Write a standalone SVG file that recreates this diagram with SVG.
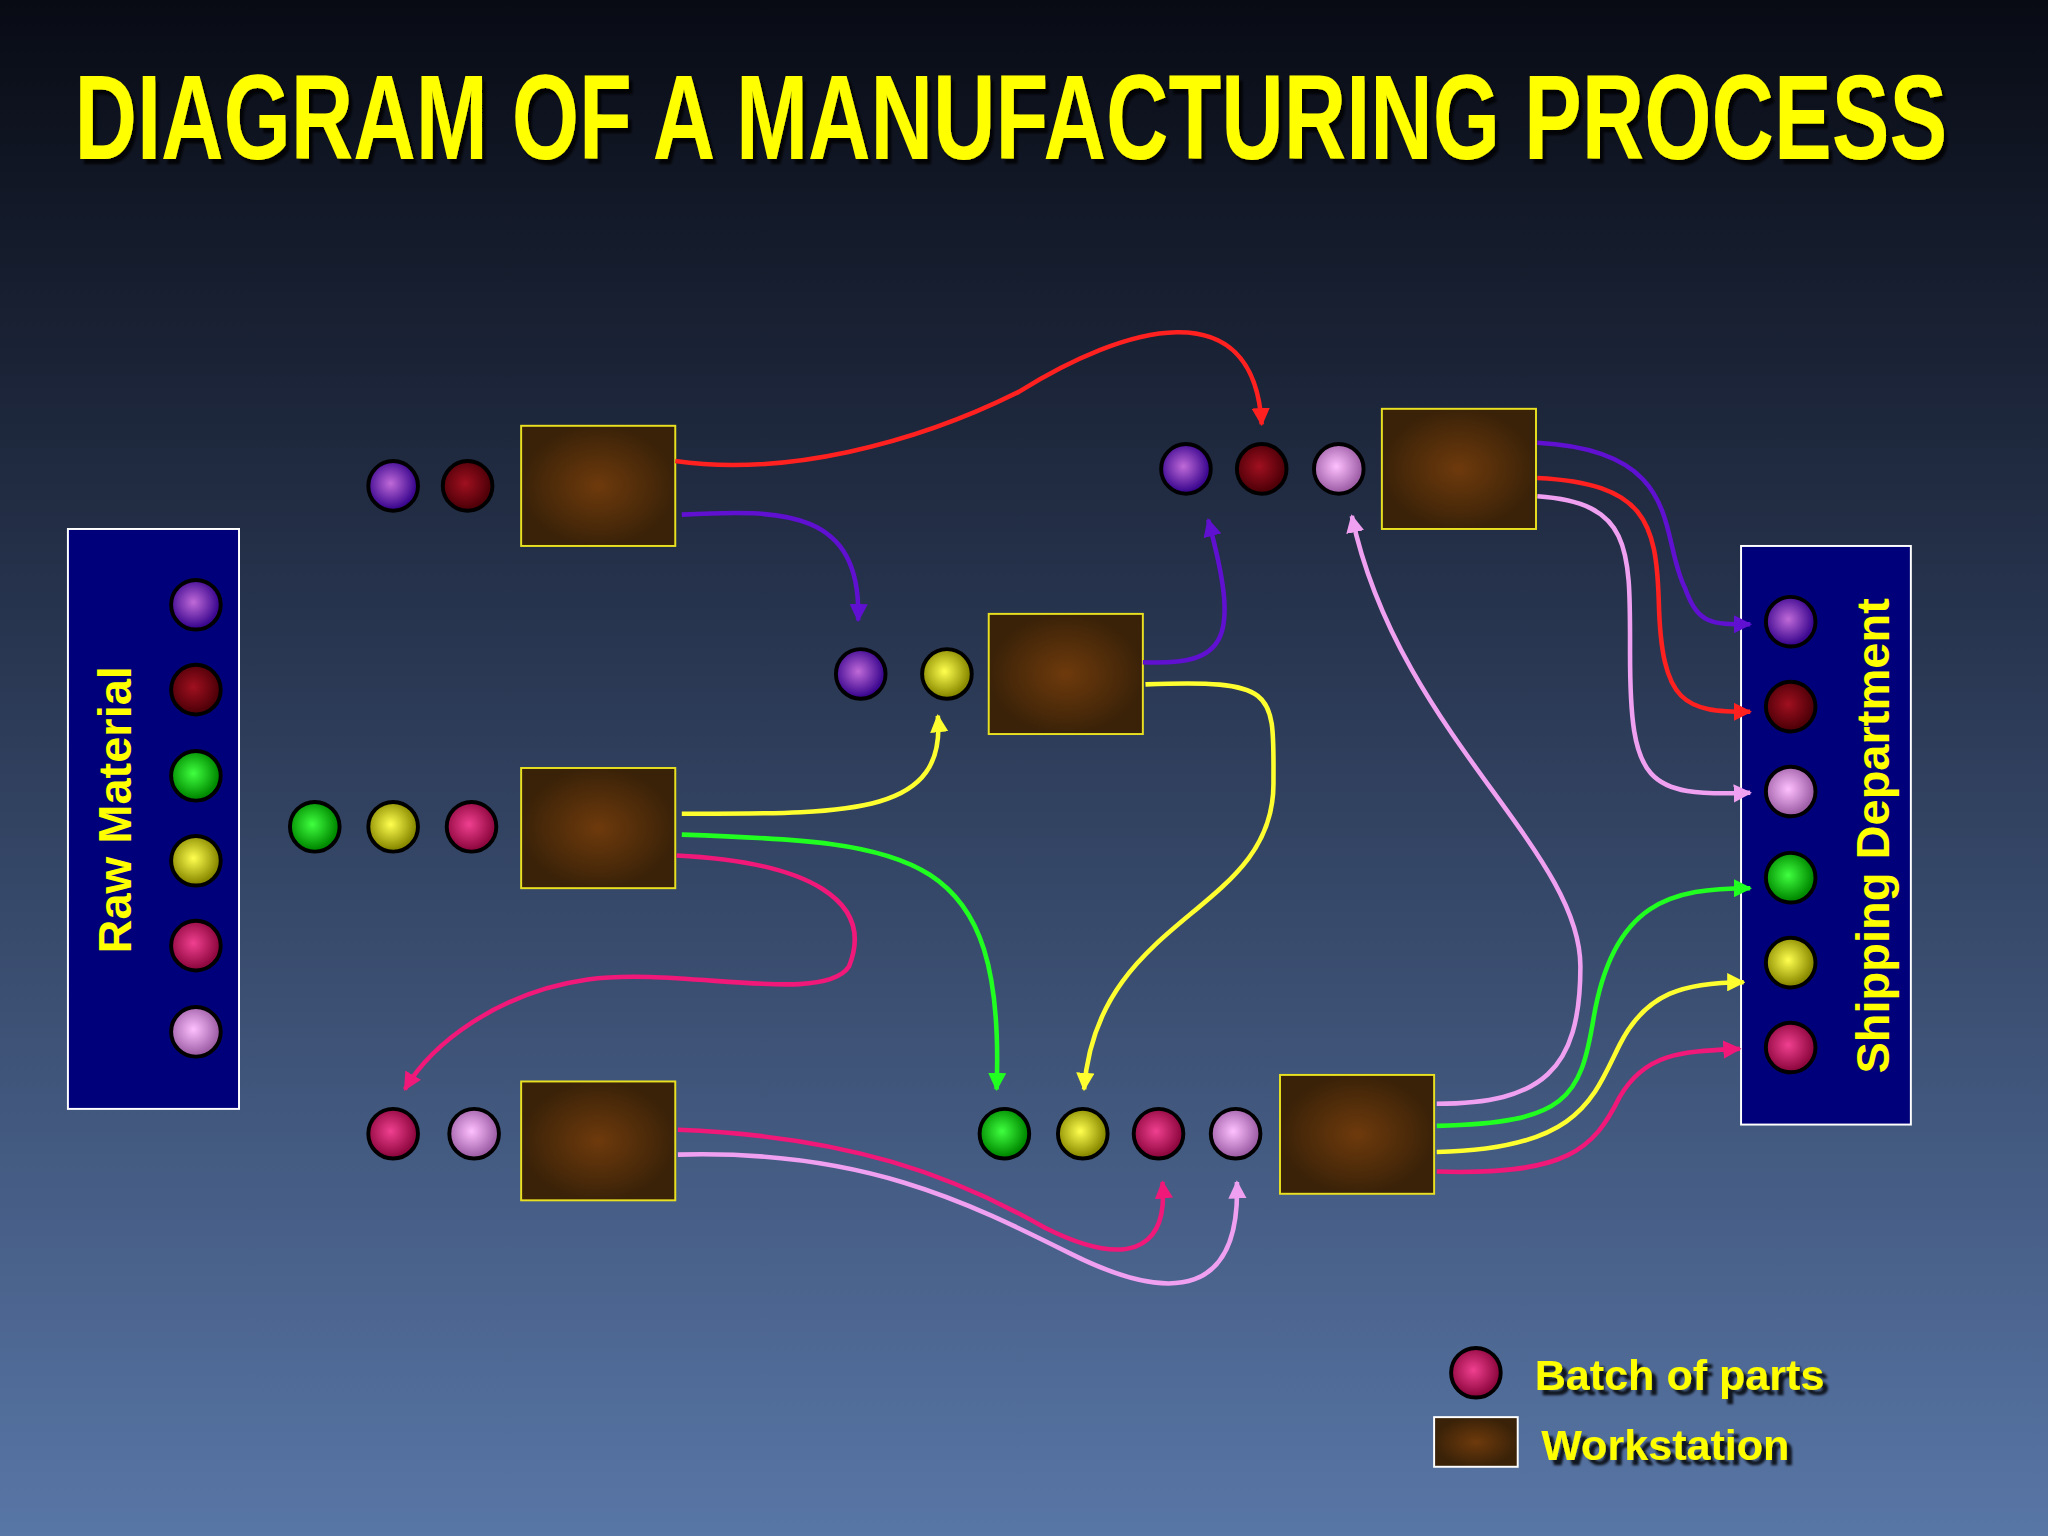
<svg xmlns="http://www.w3.org/2000/svg" width="2048" height="1536" viewBox="0 0 2048 1536">
<defs>
<filter id="sh" x="-10%" y="-40%" width="120%" height="180%"><feDropShadow dx="4" dy="4" stdDeviation="1" flood-color="#000" flood-opacity="0.8"/></filter>
<linearGradient id="bg" x1="0" y1="0" x2="0" y2="1"><stop offset="0" stop-color="#080b14"/><stop offset="0.4" stop-color="#27344e"/><stop offset="1" stop-color="#5876a6"/></linearGradient>
<radialGradient id="ws"><stop offset="0" stop-color="#6e3a0c"/><stop offset="1" stop-color="#3a2208"/></radialGradient>
<radialGradient id="gp" cx="0.45" cy="0.45"><stop offset="0" stop-color="#c06ad8"/><stop offset="1" stop-color="#3c0890"/></radialGradient>
<radialGradient id="gd" cx="0.45" cy="0.45"><stop offset="0" stop-color="#a01020"/><stop offset="1" stop-color="#500008"/></radialGradient>
<radialGradient id="gg" cx="0.45" cy="0.45"><stop offset="0" stop-color="#40ff40"/><stop offset="1" stop-color="#008a00"/></radialGradient>
<radialGradient id="gy" cx="0.45" cy="0.45"><stop offset="0" stop-color="#ffff50"/><stop offset="1" stop-color="#8a8a00"/></radialGradient>
<radialGradient id="gm" cx="0.45" cy="0.45"><stop offset="0" stop-color="#f04090"/><stop offset="1" stop-color="#900840"/></radialGradient>
<radialGradient id="gk" cx="0.45" cy="0.45"><stop offset="0" stop-color="#ffc0ff"/><stop offset="1" stop-color="#a060a8"/></radialGradient>
<marker id="ar" viewBox="0 0 10 10" refX="9" refY="5" markerWidth="4" markerHeight="4" orient="auto"><path d="M0,0 L10,5 L0,10 z" fill="#ff2020"/></marker>
<marker id="ap" viewBox="0 0 10 10" refX="9" refY="5" markerWidth="4" markerHeight="4" orient="auto"><path d="M0,0 L10,5 L0,10 z" fill="#6010d0"/></marker>
<marker id="ay" viewBox="0 0 10 10" refX="9" refY="5" markerWidth="4" markerHeight="4" orient="auto"><path d="M0,0 L10,5 L0,10 z" fill="#ffff30"/></marker>
<marker id="ag" viewBox="0 0 10 10" refX="9" refY="5" markerWidth="4" markerHeight="4" orient="auto"><path d="M0,0 L10,5 L0,10 z" fill="#20ff20"/></marker>
<marker id="am" viewBox="0 0 10 10" refX="9" refY="5" markerWidth="4" markerHeight="4" orient="auto"><path d="M0,0 L10,5 L0,10 z" fill="#f01878"/></marker>
<marker id="ak" viewBox="0 0 10 10" refX="9" refY="5" markerWidth="4" markerHeight="4" orient="auto"><path d="M0,0 L10,5 L0,10 z" fill="#f0a0f0"/></marker>
</defs>
<style>
.ws{fill:url(#ws);stroke:#e8e020;stroke-width:1.5}
.b{stroke:#000;stroke-width:3}
.c{fill:none;stroke-width:3.5}
.t{font-family:"Liberation Sans",Arial,sans-serif;font-weight:bold;fill:#ffff00}
.box{fill:#00007a;stroke:#fff;stroke-width:1.5}
</style>
<rect width="2048" height="1536" fill="url(#bg)"/>
<g transform="scale(1.30612)">
<g transform="translate(57,122) scale(0.72,1)"><text class="t" x="0" y="0" font-size="92" filter="url(#sh)">DIAGRAM OF A MANUFACTURING PROCESS</text></g>
<g id="raw"><rect class="box" x="52" y="405" width="131" height="444"/>
<text class="t" font-size="36" text-anchor="middle" transform="translate(100,620) rotate(-90)">Raw Material</text>
<circle class="b" cx="150" cy="463" r="19" fill="url(#gp)"/><circle class="b" cx="150" cy="528" r="19" fill="url(#gd)"/><circle class="b" cx="150" cy="594" r="19" fill="url(#gg)"/><circle class="b" cx="150" cy="659" r="19" fill="url(#gy)"/><circle class="b" cx="150" cy="724" r="19" fill="url(#gm)"/><circle class="b" cx="150" cy="790" r="19" fill="url(#gk)"/></g>
<g id="ship"><rect class="box" x="1333" y="418" width="130" height="443"/>
<text class="t" font-size="36" text-anchor="middle" transform="translate(1446,640) rotate(-90)">Shipping Department</text>
<circle class="b" cx="1371" cy="476" r="19" fill="url(#gp)"/><circle class="b" cx="1371" cy="541" r="19" fill="url(#gd)"/><circle class="b" cx="1371" cy="606" r="19" fill="url(#gk)"/><circle class="b" cx="1371" cy="672" r="19" fill="url(#gg)"/><circle class="b" cx="1371" cy="737" r="19" fill="url(#gy)"/><circle class="b" cx="1371" cy="802" r="19" fill="url(#gm)"/></g>
<g id="w1"><rect class="ws" x="399" y="326" width="118" height="92"/><circle class="b" cx="301" cy="372" r="19" fill="url(#gp)"/><circle class="b" cx="358" cy="372" r="19" fill="url(#gd)"/></g>
<g id="w2"><rect class="ws" x="757" y="470" width="118" height="92"/><circle class="b" cx="659" cy="516" r="19" fill="url(#gp)"/><circle class="b" cx="725" cy="516" r="19" fill="url(#gy)"/></g>
<g id="w3"><rect class="ws" x="399" y="588" width="118" height="92"/><circle class="b" cx="241" cy="633" r="19" fill="url(#gg)"/><circle class="b" cx="301" cy="633" r="19" fill="url(#gy)"/><circle class="b" cx="361" cy="633" r="19" fill="url(#gm)"/></g>
<g id="w4"><rect class="ws" x="399" y="828" width="118" height="91"/><circle class="b" cx="301" cy="868" r="19" fill="url(#gm)"/><circle class="b" cx="363" cy="868" r="19" fill="url(#gk)"/></g>
<g id="w5"><rect class="ws" x="1058" y="313" width="118" height="92"/><circle class="b" cx="908" cy="359" r="19" fill="url(#gp)"/><circle class="b" cx="966" cy="359" r="19" fill="url(#gd)"/><circle class="b" cx="1025" cy="359" r="19" fill="url(#gk)"/></g>
<g id="w6"><rect class="ws" x="980" y="823" width="118" height="91"/><circle class="b" cx="769" cy="868" r="19" fill="url(#gg)"/><circle class="b" cx="829" cy="868" r="19" fill="url(#gy)"/><circle class="b" cx="887" cy="868" r="19" fill="url(#gm)"/><circle class="b" cx="946" cy="868" r="19" fill="url(#gk)"/></g>
<g id="connectors">
<path class="c" stroke="#ff2020" marker-end="url(#ar)" d="M517,353 C600,365 700,340 780,300 C860,250 960,220 966,325"/>
<path class="c" stroke="#6010d0" marker-end="url(#ap)" d="M522,394 C600,390 660,390 657,475"/>
<path class="c" stroke="#6010d0" marker-end="url(#ap)" d="M875,507 C940,510 950,490 925,398"/>
<path class="c" stroke="#ffff30" marker-end="url(#ay)" d="M522,623 C650,623 725,625 718,548"/>
<path class="c" stroke="#20ff20" marker-end="url(#ag)" d="M522,639 C700,645 770,650 763,834"/>
<path class="c" stroke="#f01878" marker-end="url(#am)" d="M518,655 C620,660 670,690 650,740 C630,770 520,740 450,750 C380,760 330,800 310,834"/>
<path class="c" stroke="#ffff30" marker-end="url(#ay)" d="M877,524 C980,520 975,530 975,600 C975,700 840,700 830,834"/>
<path class="c" stroke="#f01878" marker-end="url(#am)" d="M519,865 C650,870 730,900 800,940 C860,970 895,960 890,905"/>
<path class="c" stroke="#f0a0f0" marker-end="url(#ak)" d="M519,884 C660,880 740,920 820,960 C900,1000 950,990 947,905"/>
<path class="c" stroke="#f0a0f0" marker-end="url(#ak)" d="M1100,845 C1180,845 1210,820 1210,740 C1210,650 1070,560 1035,395"/>
<path class="c" stroke="#6010d0" marker-end="url(#ap)" d="M1177,339 C1290,345 1270,410 1290,450 C1300,478 1310,478 1340,478"/>
<path class="c" stroke="#ff2020" marker-end="url(#ar)" d="M1177,366 C1260,370 1268,400 1270,460 C1272,540 1290,545 1340,545"/>
<path class="c" stroke="#f0a0f0" marker-end="url(#ak)" d="M1177,380 C1250,385 1248,420 1248,500 C1248,600 1260,610 1340,607"/>
<path class="c" stroke="#20ff20" marker-end="url(#ag)" d="M1100,862 C1200,860 1210,840 1220,780 C1235,690 1280,680 1340,680"/>
<path class="c" stroke="#ffff30" marker-end="url(#ay)" d="M1100,882 C1210,880 1220,840 1240,800 C1260,760 1290,752 1335,752"/>
<path class="c" stroke="#f01878" marker-end="url(#am)" d="M1100,897 C1200,900 1220,880 1240,840 C1260,805 1290,805 1332,803"/>
</g>
<g id="legend">
<circle class="b" cx="1130" cy="1051" r="19" fill="url(#gm)"/>
<text class="t" x="1175" y="1064" font-size="33" filter="url(#sh)">Batch of parts</text>
<rect x="1098" y="1085" width="64" height="38" fill="url(#ws)" stroke="#fff" stroke-width="1.5"/>
<text class="t" x="1180" y="1118" font-size="33" filter="url(#sh)">Workstation</text>
</g>
</g>
</svg>
